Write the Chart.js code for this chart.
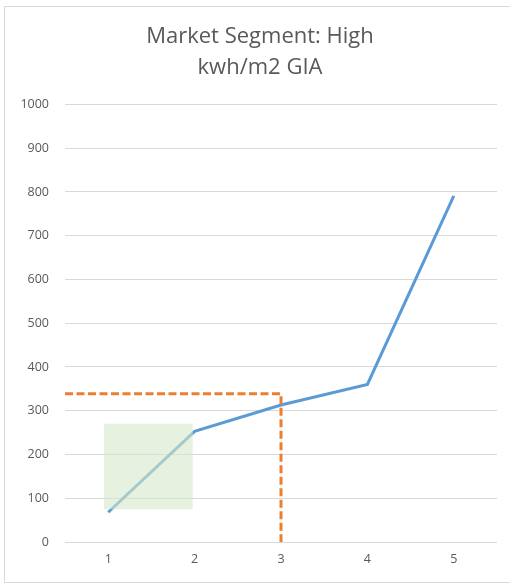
<!DOCTYPE html>
<html>
<head>
<meta charset="utf-8">
<script src="https://cdn.jsdelivr.net/npm/chart.js@4"></script>
<style>
  html, body { margin: 0; padding: 0; background: #ffffff; }
  #wrap { width: 510px; height: 583px; position: relative; }
</style>
</head>
<body>
<div id="wrap"><canvas id="c" width="510" height="583"></canvas></div>
<script>
// ---- data ----
const titleLines = ['Market Segment: High', 'kwh/m2 GIA'];
const categories = ['1', '2', '3', '4', '5'];
const seriesValues = [68, 253, 313, 360, 791];
const yTicks = [0, 100, 200, 300, 400, 500, 600, 700, 800, 900, 1000];
const refLevel = 339;      // orange dashed horizontal level
const refCategory = 3;     // orange dashed vertical at category
const boxX = [0.95, 1.98]; // green shaded box, category span
const boxY = [75, 270];    // green shaded box, value span

const catPos = categories.map((c, i) => i + 1);
const lineData = seriesValues.map((v, i) => ({ x: catPos[i], y: v }));
const refData = [
  { x: 0.5, y: refLevel },
  { x: refCategory, y: refLevel },
  { x: refCategory, y: yTicks[0] }
];
const boxData = [
  { x: boxX[0], y: boxY[1] },
  { x: boxX[1], y: boxY[1] }
];

const framePlugin = {
  id: 'frame',
  beforeDraw(chart) {
    const ctx = chart.ctx;
    ctx.save();
    ctx.fillStyle = '#ffffff';
    ctx.fillRect(0, 0, chart.width, chart.height);
    ctx.strokeStyle = '#d9d9d9';
    ctx.lineWidth = 1;
    ctx.strokeRect(4.5, 6.5, 530, 576);
    ctx.restore();
  }
};

new Chart(document.getElementById('c'), {
  type: 'line',
  data: {
    datasets: [
      {
        label: 'box',
        data: boxData,
        borderWidth: 0,
        borderColor: 'rgba(0,0,0,0)',
        backgroundColor: 'rgba(214,233,202,0.6)',
        fill: { value: boxY[0] },
        pointRadius: 0,
        order: 0
      },
      {
        label: 'series',
        data: lineData,
        borderColor: '#5B9BD5',
        borderWidth: 3,
        pointRadius: 0,
        fill: false,
        tension: 0,
        order: 2
      },
      {
        label: 'reference',
        data: refData,
        borderColor: '#ED7D31',
        borderWidth: 3,
        borderDash: [8, 3.5],
        pointRadius: 0,
        fill: false,
        tension: 0,
        order: 1
      }
    ]
  },
  options: {
    responsive: false,
    animation: false,
    devicePixelRatio: 1,
    layout: { padding: { left: 10, right: 0, top: 0, bottom: 0 } },
    plugins: {
      legend: { display: false },
      tooltip: { enabled: false },
      title: {
        display: true,
        text: titleLines,
        color: '#595959',
        font: { family: 'Open Sans', size: 22, weight: 'normal', lineHeight: 1.42 },
        padding: { top: 21, bottom: 21 }
      }
    },
    scales: {
      x: {
        type: 'linear',
        min: 0.5,
        max: 5.5,
        afterBuildTicks(scale) { scale.ticks = catPos.map(v => ({ value: v })); },
        afterFit(scale) { scale.height = 41; },
        grid: { display: false, drawTicks: false },
        border: { display: false },
        ticks: {
          color: '#595959',
          font: { family: 'Open Sans', size: 12.5 },
          padding: 10,
          maxRotation: 0,
          autoSkip: false,
          callback: (v) => categories[catPos.indexOf(v)] ?? ''
        }
      },
      y: {
        min: yTicks[0],
        max: yTicks[yTicks.length - 1],
        afterBuildTicks(scale) { scale.ticks = yTicks.map(v => ({ value: v })); },
        afterFit(scale) { scale.width = 55; },
        grid: { color: '#d9d9d9', lineWidth: 1, drawTicks: false },
        border: { display: false },
        ticks: {
          color: '#595959',
          font: { family: 'Open Sans', size: 12.5 },
          padding: 16,
          callback: (v) => String(v)
        }
      },
      yRight: {
        position: 'right',
        min: yTicks[0],
        max: yTicks[yTicks.length - 1],
        afterFit(scale) { scale.width = 13; },
        grid: { display: false, drawTicks: false },
        border: { display: false },
        ticks: { display: false }
      }
    }
  },
  plugins: [framePlugin]
});
</script>
</body>
</html>
